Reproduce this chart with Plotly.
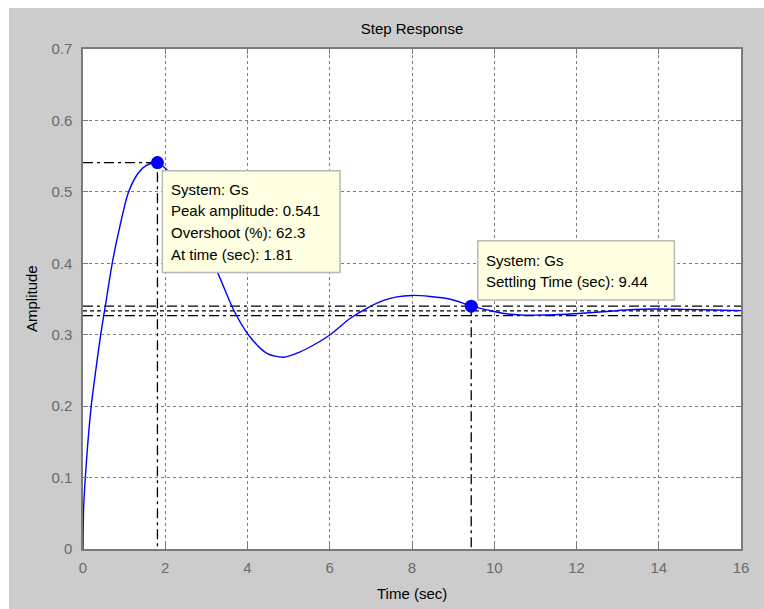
import plotly.graph_objects as go

# Step response of system Gs (time in seconds, amplitude)
time_s = [0.0, 0.015, 0.056, 0.12, 0.20, 0.31, 0.43, 0.57, 0.71, 0.89, 1.11, 1.34, 1.54, 1.81,
          2.0, 2.3, 2.6, 2.9, 3.1, 3.37, 3.66, 4.02, 4.47, 4.87, 5.28, 5.65, 6.01, 6.50, 6.90,
          7.31, 7.63, 8.0, 8.44, 8.93, 9.25, 9.44, 9.82, 10.2, 10.63, 11.2, 11.77, 12.4, 12.9,
          13.4, 13.88, 14.6, 15.34, 16.0]
amplitude = [0.0, 0.058, 0.10, 0.15, 0.20, 0.25, 0.30, 0.35, 0.40, 0.45, 0.50, 0.526, 0.537, 0.541,
             0.533, 0.513, 0.479, 0.438, 0.411, 0.374, 0.335, 0.300, 0.274, 0.2685, 0.276, 0.287,
             0.300, 0.323, 0.337, 0.348, 0.353, 0.355, 0.3535, 0.3497, 0.344, 0.340, 0.3347, 0.330,
             0.3277, 0.3275, 0.3287, 0.331, 0.3333, 0.3352, 0.336, 0.3355, 0.3347, 0.3337]

# Response characteristics
system_name = "Gs"
peak_time = 1.81
peak_amp = 0.541
overshoot_pct = 62.3
settling_time = 9.44
settling_amp = 0.340
steady_state = 0.3333
settle_band = 0.02

x_ticks = [0, 2, 4, 6, 8, 10, 12, 14, 16]
y_ticks = [0, 0.1, 0.2, 0.3, 0.4, 0.5, 0.6, 0.7]

FONT = "Liberation Sans, Arial, sans-serif"
BLUE = "#0000ff"
DASHDOT = "10px,4px,3px,4px"

fig = go.Figure()

# steady-state value and settling band
band_hi = steady_state * (1 + settle_band)
band_lo = steady_state * (1 - settle_band)
for level, dash in [(band_hi, DASHDOT), (steady_state, "4px,3px"), (band_lo, DASHDOT)]:
    fig.add_trace(go.Scatter(x=[x_ticks[0], x_ticks[-1]], y=[level, level], mode="lines",
                             line=dict(color="black", width=1.2, dash=dash),
                             hoverinfo="skip", showlegend=False))

# peak and settling guide lines
fig.add_trace(go.Scatter(x=[x_ticks[0], peak_time, peak_time], y=[peak_amp, peak_amp, 0],
                         mode="lines", line=dict(color="black", width=1.3, dash=DASHDOT),
                         hoverinfo="skip", showlegend=False))
fig.add_trace(go.Scatter(x=[settling_time, settling_time], y=[settling_amp, 0],
                         mode="lines", line=dict(color="black", width=1.3, dash=DASHDOT),
                         hoverinfo="skip", showlegend=False))

# response curve
fig.add_trace(go.Scatter(x=time_s, y=amplitude, mode="lines",
                         line=dict(color=BLUE, width=1.4, shape="spline", smoothing=0.8),
                         name=system_name, showlegend=False))

# characteristic markers
fig.add_trace(go.Scatter(x=[peak_time, settling_time], y=[peak_amp, settling_amp], mode="markers",
                         marker=dict(color=BLUE, size=13, line=dict(width=0)),
                         hoverinfo="skip", showlegend=False))

# data tip boxes
tip_style = dict(type="rect", xref="x", yref="y", layer="above",
                 fillcolor="#ffffe1", line=dict(color="#b8b8b8", width=1.5))
fig.add_shape(x0=1.93, x1=6.25, y0=0.387, y1=0.5295, **tip_style)
fig.add_shape(x0=9.60, x1=14.38, y0=0.3487, y1=0.4316, **tip_style)

tip1 = [f"System: {system_name}",
        f"Peak amplitude: {peak_amp:.3f}",
        f"Overshoot (%): {overshoot_pct:.1f}",
        f"At time (sec): {peak_time:.2f}"]
for i, line in enumerate(tip1):
    fig.add_annotation(x=2.10, y=0.5035 - i * 0.0302, xref="x", yref="y", text=line,
                       showarrow=False, xanchor="left", yanchor="middle",
                       font=dict(family=FONT, size=15, color="black"))

tip2 = [f"System: {system_name}", f"Settling Time (sec): {settling_time:.2f}"]
for i, line in enumerate(tip2):
    fig.add_annotation(x=9.76, y=0.4046 - i * 0.0294, xref="x", yref="y", text=line,
                       showarrow=False, xanchor="left", yanchor="middle",
                       font=dict(family=FONT, size=15, color="black"))

# axis titles
fig.add_annotation(x=0.5, y=-0.088, xref="paper", yref="paper", text="Time (sec)",
                   showarrow=False, xanchor="center", yanchor="middle",
                   font=dict(family=FONT, size=15, color="black"))
fig.add_annotation(x=-0.079, y=0.5, xref="paper", yref="paper", text="Amplitude",
                   showarrow=False, textangle=-90, xanchor="center", yanchor="middle",
                   font=dict(family=FONT, size=15, color="black"))

# white strips along the top and left edges of the window
fig.add_shape(type="rect", xref="paper", yref="paper", x0=-0.2, x1=1.1, y0=1.082, y1=1.2,
              fillcolor="white", line=dict(width=0), layer="above")
fig.add_shape(type="rect", xref="paper", yref="paper", x0=-0.2, x1=-0.1125, y0=-0.2, y1=1.2,
              fillcolor="white", line=dict(width=0), layer="above")

axis_common = dict(showline=True, mirror="ticks", linecolor="#7a7a7a", linewidth=1.5,
                   showgrid=True, gridcolor="#7d7d7d", gridwidth=1, griddash="3px,3px",
                   ticks="inside", ticklen=5, tickcolor="#7a7a7a", zeroline=False,
                   tickfont=dict(family=FONT, size=15, color="#6a6a6a"))

fig.update_xaxes(range=[x_ticks[0], x_ticks[-1]], tickvals=x_ticks,
                 ticktext=[str(v) for v in x_ticks], ticklabelstandoff=4, **axis_common)
fig.update_yaxes(range=[y_ticks[0], y_ticks[-1]], tickvals=y_ticks,
                 ticktext=[f"{v:g}" for v in y_ticks], ticklabelstandoff=6, **axis_common)

fig.update_layout(
    width=764, height=609,
    margin=dict(l=83, r=23, t=49, b=60),
    paper_bgcolor="#cccccc", plot_bgcolor="white",
    title=dict(text="Step Response", x=0.5, xref="paper", y=1 - 29 / 609, yref="container",
               xanchor="center", yanchor="middle",
               font=dict(family=FONT, size=15, color="black")),
    showlegend=False,
)

fig.write_html("out.html")
